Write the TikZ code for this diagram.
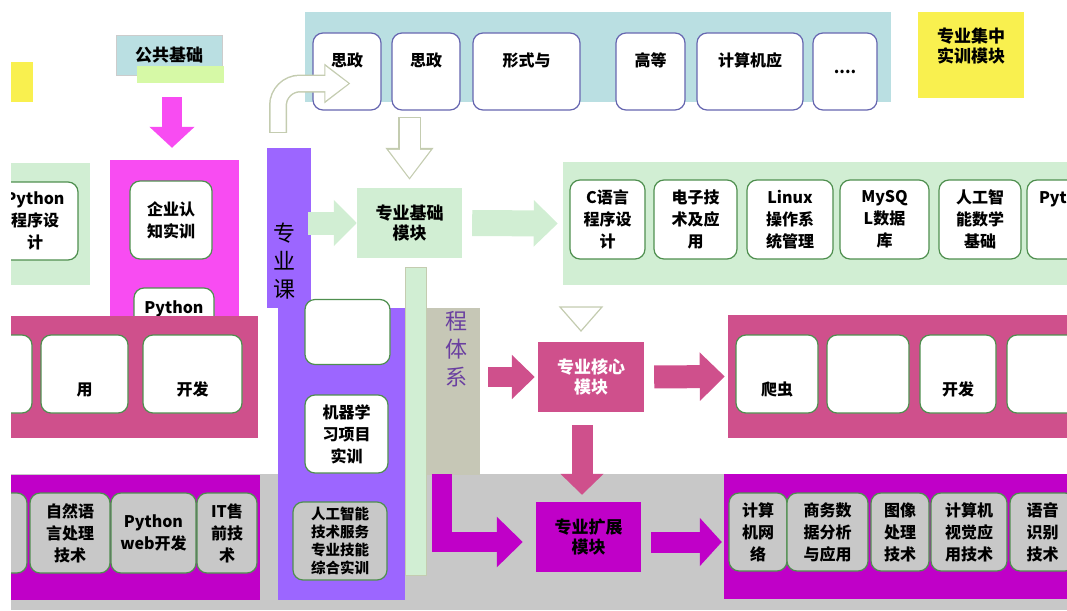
\documentclass[tikz,border=0pt]{standalone}
\usepackage{fontspec}
\setmainfont{Noto Sans CJK SC}
\usetikzlibrary{arrows.meta}

\definecolor{topblue}{HTML}{BADFE2}
\definecolor{lgreen}{HTML}{D1EED3}
\definecolor{brightmag}{HTML}{F84CF2}
\definecolor{kpurple}{HTML}{9C66FF}
\definecolor{corepink}{HTML}{CF508C}
\definecolor{extmag}{HTML}{C000C8}
\definecolor{bgray}{HTML}{C8C8C8}
\definecolor{olivegray}{HTML}{C6C7B6}
\definecolor{kyellow}{HTML}{F9F04F}
\definecolor{boxline}{HTML}{4F8F4F}
\definecolor{topline}{HTML}{6666B0}
\definecolor{stripgreen}{HTML}{D6F9A6}
\definecolor{arrline}{HTML}{C4CCB0}
\definecolor{tixi}{HTML}{6A3FA0}

\newcommand\coursefont{\fontsize{16}{22}\selectfont\bfseries}
\newcommand\modfont{\fontsize{17}{20}\selectfont\bfseries}
\newcommand\barfont{\fontsize{22}{28}\selectfont}

\tikzset{
  panel/.style={fill=#1, inner sep=0pt},
  course/.style={draw=boxline, line width=1.2pt, fill=white, rounded corners=10pt,
    inner sep=0pt, align=center, font=\coursefont},
  topbox/.style={course, draw=topline},
  graybox/.style={course, fill=bgray},
  module/.style={fill=#1, inner sep=0pt, align=center, font=\modfont,
    minimum width=105pt, minimum height=70pt},
  blockarrow/.style n args={3}{line width=#1pt, -{Triangle[width=#2pt,length=#3pt]}},
}

\begin{document}
\begin{tikzpicture}[x=1pt,y=-1pt]
\useasboundingbox (0,0) rectangle (1067,610);
\clip (11,0) rectangle (1067,610);

% backgrounds
\fill[bgray] (11,474) rectangle (1067,610);
\fill[olivegray] (392,308) rectangle (480,475);

% public course row
\node[panel=topblue, minimum width=586pt, minimum height=90pt] (toppanel) at (598,57) {};
\node[topbox, minimum width=68pt, minimum height=77pt] (sz1) at (347,71.5) {思政\\[2pt]~};
\node[topbox, minimum width=68pt, minimum height=77pt] (sz2) at (426,71.5) {思政\\[2pt]~};
\node[topbox, minimum width=107pt, minimum height=77pt] (xszc) at (526.5,71.5) {形式与\\[2pt]~};
\node[topbox, minimum width=69pt, minimum height=77pt] (gdsx) at (650.5,71.5) {高等\\[2pt]~};
\node[topbox, minimum width=106pt, minimum height=77pt] (jsjyy) at (750,71.5) {计算机应\\[2pt]~};
\node[topbox, minimum width=64pt, minimum height=77pt] (more) at (845,71.5) {....};

\node[panel=topblue, draw=gray!40, minimum width=106pt, minimum height=40pt, font=\modfont] (gonggong) at (169,55) {公共基础};
\fill[stripgreen] (137,66) rectangle (224,83);
\fill[kyellow] (11,62) rectangle (33,102);
\node[panel=kyellow, minimum width=106pt, minimum height=86pt, align=center, font=\modfont] (jizhong) at (971,55) {专业集中\\实训模块\\~};

% left side panels
\node[panel=lgreen, minimum width=79pt, minimum height=122pt] (pyP) at (50.5,224) {};
\node[course, minimum width=86pt, minimum height=78pt] (pycx) at (35,221) {Python\\程序设\\计};
\node[panel=brightmag, minimum width=129pt, minimum height=156pt] (qiyeP) at (174.5,238) {};
\node[course, minimum width=82pt, minimum height=78pt] (qiye) at (171,220) {企业认\\知实训};
\node[course, minimum width=80pt, minimum height=82pt] (py2) at (174,329) {Python\\~\\~};
\node[panel=corepink, minimum width=247pt, minimum height=122pt] (coreL) at (134.5,377) {};
\node[course, minimum width=52pt, minimum height=78pt] (l1) at (6,374) {};
\node[course, minimum width=87pt, minimum height=78pt] (l2) at (84.5,374) {~\\~\\用};
\node[course, minimum width=99pt, minimum height=78pt] (l3) at (192.5,374) {~\\~\\开发};
\node[panel=extmag, minimum width=249pt, minimum height=125pt] (extL) at (135.5,537.5) {};
\node[graybox, minimum width=57pt, minimum height=80pt] (k1) at (-1.5,533) {};
\node[graybox, minimum width=80pt, minimum height=80pt] (zryy) at (70,533) {自然语\\言处理\\技术};
\node[graybox, minimum width=85pt, minimum height=80pt] (pyweb) at (153.5,533) {Python\\web开发};
\node[graybox, minimum width=60pt, minimum height=80pt] (itsq) at (227,533) {IT售\\前技\\术};

% course system column
\fill[lgreen, draw=arrline] (405,267) rectangle (426,575);
\node[panel=kpurple, minimum width=127pt, minimum height=292pt] (kechengL) at (341.5,454) {};
\node[panel=kpurple, minimum width=44pt, minimum height=160pt] (kecheng) at (289,228) {};
\node[align=center, font=\barfont, inner sep=0pt] (kechengT) at (284,261) {专\\业\\课};
\node[align=center, font=\barfont, text=tixi, inner sep=0pt] (tixiT) at (456,349) {程\\体\\系};
\node[course, minimum width=85pt, minimum height=65pt] (wbox) at (347.5,332) {};
\node[course, minimum width=83pt, minimum height=78pt] (jqxx) at (346.5,434) {机器学\\习项目\\实训};
\node[graybox, minimum width=94pt, minimum height=78pt, font=\fontsize{14.5}{18}\selectfont\bfseries] (zhsx) at (340,541) {人工智能\\技术服务\\专业技能\\综合实训};

% modules
\node[module=lgreen] (jichu) at (409.5,223) {专业基础\\模块};
\node[module=corepink, text=white, minimum width=106pt] (hexin) at (591,377) {专业核心\\模块};
\node[module=extmag] (kuozhan) at (588.5,537) {专业扩展\\模块};

% right side panels
\node[panel=lgreen, minimum width=504pt, minimum height=123pt] (jichuP) at (815,223.5) {};
\node[course, minimum width=75pt, minimum height=79pt] (cyy) at (607.5,219.5) {C语言\\程序设\\计};
\node[course, minimum width=83pt, minimum height=79pt] (dzjs) at (695.5,219.5) {电子技\\术及应\\用};
\node[course, minimum width=86pt, minimum height=79pt] (linux) at (790,219.5) {Linux\\操作系\\统管理};
\node[course, minimum width=89pt, minimum height=79pt] (mysql) at (884.5,219.5) {MySQ\\L数据\\库};
\node[course, minimum width=82pt, minimum height=79pt] (rgzn) at (980,219.5) {人工智\\能数学\\基础};
\node[course, minimum width=83pt, minimum height=79pt] (pyR) at (1068.5,219.5) {Python\\~\\~};

\node[panel=corepink, minimum width=339pt, minimum height=123pt] (hexinP) at (897.5,376.5) {};
\node[course, minimum width=82pt, minimum height=78pt] (r1) at (777,374) {~\\~\\爬虫};
\node[course, minimum width=82pt, minimum height=78pt] (r2) at (868,374) {};
\node[course, minimum width=76pt, minimum height=78pt] (r3) at (958,374) {~\\~\\开发};
\node[course, minimum width=83pt, minimum height=78pt] (r4) at (1048.5,374) {};

\node[panel=extmag, minimum width=343pt, minimum height=125pt] (kuozhanP) at (895.5,536.5) {};
\node[graybox, minimum width=58pt, minimum height=78pt] (jswl) at (758,532) {计算\\机网\\络};
\node[graybox, minimum width=81pt, minimum height=78pt] (swsj) at (827.5,532) {商务数\\据分析\\与应用};
\node[graybox, minimum width=58pt, minimum height=78pt] (txcl) at (900,532) {图像\\处理\\技术};
\node[graybox, minimum width=76pt, minimum height=78pt] (jsjsj) at (969,532) {计算机\\视觉应\\用技术};
\node[graybox, minimum width=65pt, minimum height=78pt] (yysb) at (1042.5,532) {语音\\识别\\技术};

% arrows
\coordinate (jin) at (308,223);
\coordinate (hin) at (488,377);
\coordinate (lstart) at (442,474);
\draw[blockarrow={23}{45}{23}, lgreen] (jin) -- (jichu.west);
\draw[blockarrow={26}{45}{24}, lgreen, shorten <=10pt, shorten >=5pt] (jichu.east) -- (jichuP.west);
\draw[blockarrow={20}{44}{21}, brightmag, shorten <=22pt, shorten >=12pt] ([xshift=3pt]gonggong.south) -- ([xshift=3pt]gonggong.south |- qiyeP.north);
\draw[blockarrow={20}{43}{23}, corepink, shorten >=3pt] (hin) -- (hexin.west);
\draw[blockarrow={23}{47}{25}, corepink, shorten <=10pt, shorten >=3pt] (hexin.east) -- (hexinP.west);
\draw[blockarrow={21}{42}{21}, corepink, shorten <=13pt, shorten >=7pt] ([xshift=-9pt]hexin.south) -- ([xshift=-9pt]hexin.south |- kuozhan.north);
\draw[blockarrow={20}{49}{26}, extmag, shorten >=13pt] (lstart) |- ([yshift=-5pt]kuozhan.west);
\draw[blockarrow={21}{47}{22}, extmag, shorten <=10pt, shorten >=2pt] ([yshift=-5pt]kuozhan.east) -- ([yshift=-5pt]kuozhan.east -| kuozhanP.west);

\draw[blockarrow={23}{46}{32}, arrline, shorten <=15pt, shorten >=8pt] (toppanel.south -| jichu) -- (jichu.north);
\draw[blockarrow={20}{40}{28}, white, shorten <=16pt, shorten >=10pt] (toppanel.south -| jichu) -- (jichu.north);
\draw[blockarrow={18}{38}{26}, arrline, rounded corners=22pt, shorten <=15pt] ([xshift=-11pt]kecheng.north) |- ([xshift=38pt,yshift=-12pt]sz1.west);
\draw[blockarrow={15}{33}{23}, white, rounded corners=22pt, shorten <=16pt, shorten >=2pt] ([xshift=-11pt]kecheng.north) |- ([xshift=38pt,yshift=-12pt]sz1.west);
\draw[arrline, fill=white, line width=1.2pt] (560,307) -- (602,307) -- (581,331) -- cycle;
\end{tikzpicture}
\end{document}
